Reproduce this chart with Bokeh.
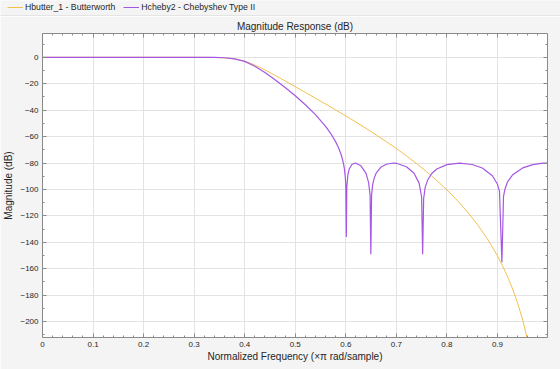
from bokeh.plotting import figure
from bokeh.layouts import column
from bokeh.models import (Range1d, LinearAxis, Legend, LegendItem,
                          FixedTicker, CustomJSTickFormatter)
from bokeh.embed import file_html
from bokeh.resources import INLINE

# ---------------- data ----------------
freq_butter = [0.00, 0.05, 0.10, 0.15, 0.20, 0.25, 0.30, 0.32, 0.34, 0.35, 0.36,
               0.37, 0.38, 0.39, 0.40, 0.41, 0.42, 0.43, 0.44, 0.45, 0.46, 0.47,
               0.48, 0.49, 0.50, 0.52, 0.54, 0.56, 0.58, 0.60, 0.62, 0.64, 0.66,
               0.68, 0.70, 0.72, 0.74, 0.76, 0.78, 0.80, 0.82, 0.84, 0.86, 0.88,
               0.90, 0.91, 0.92, 0.93, 0.94, 0.95, 0.96, 0.97]
mag_butter = [0.0, 0.0, 0.0, 0.0, 0.0, 0.0, -0.01, -0.05, -0.16, -0.28, -0.47,
              -0.79, -1.28, -2.01, -3.01, -4.30, -5.86, -7.62, -9.54, -11.56, -13.63, -15.76,
              -17.91, -20.05, -22.22, -26.58, -30.96, -35.38, -39.85, -44.4, -49.0, -53.8, -58.7,
              -63.8, -69.0, -74.6, -80.4, -86.6, -93.2, -100.3, -108.1, -116.7, -126.3, -137.3,
              -150.2, -157.7, -166.0, -175.3, -186.1, -198.8, -214.4, -234.4]

freq_cheby = [0.00, 0.10, 0.20, 0.30, 0.34, 0.36, 0.38, 0.40, 0.42, 0.44, 0.46,
              0.48, 0.50, 0.52, 0.54, 0.56, 0.57, 0.58, 0.585, 0.59, 0.593, 0.5952,
              0.597, 0.599, 0.600, 0.601, 0.602, 0.604, 0.607, 0.612, 0.619, 0.63,
              0.64, 0.645, 0.648, 0.6495, 0.651, 0.653, 0.656, 0.66, 0.67, 0.68,
              0.694, 0.70, 0.72, 0.735, 0.745, 0.750, 0.752, 0.754, 0.757, 0.762,
              0.77, 0.78, 0.80, 0.825, 0.85, 0.87, 0.89, 0.90, 0.904, 0.9088,
              0.912, 0.915, 0.92, 0.93, 0.95, 0.97, 0.99, 0.999]
mag_cheby = [0.0, 0.0, 0.0, -0.01, -0.10, -0.36, -1.15, -3.12, -6.73, -11.56, -17.02,
             -22.9, -29.1, -35.9, -43.4, -52.3, -57.5, -64.0, -67.9, -72.8, -76.6, -80.0,
             -83.8, -90.8, -97.2, -136.0, -97.9, -89.2, -84.3, -81.1, -80.0, -82.1,
             -87.8, -94.6, -104.0, -149.0, -103.9, -96.7, -91.6, -87.7, -83.0, -80.9,
             -80.0, -80.2, -82.8, -87.7, -95.2, -105.7, -149.0, -106.9, -98.4, -92.8,
             -87.9, -84.5, -81.2, -80.0, -81.1, -83.8, -89.6, -96.1, -101.3, -155.0,
             -105.3, -99.6, -94.2, -88.9, -83.7, -81.2, -80.1, -80.0]

x_ticks = [0.0, 0.1, 0.2, 0.3, 0.4, 0.5, 0.6, 0.7, 0.8, 0.9]
x_tick_labels = ["0", "0.1", "0.2", "0.3", "0.4", "0.5", "0.6", "0.7", "0.8", "0.9"]
y_ticks = [0, -20, -40, -60, -80, -100, -120, -140, -160, -180, -200]
x_minor = [i / 50 for i in range(50)]
y_minor = [10 - 10 * i for i in range(23)]

series_names = ["Hbutter_1 - Butterworth", "Hcheby2 - Chebyshev Type II"]
title_text = "Magnitude Response (dB)"
xlabel_text = "Normalized Frequency (\u00d7\u03c0 rad/sample)"
ylabel_text = "Magnitude (dB)"

# ---------------- styling ----------------
FONT = "Liberation Sans"
BG = "#f4f4f4"
AX = "#8a8a8a"
TXT = "#262626"
C_BUT = "#F1C04F"
C_CHE = "#A458E2"

# ---------------- legend strip (top) ----------------
p_leg = figure(width=560, height=16, output_backend="svg", toolbar_location=None,
               x_range=Range1d(0, 1), y_range=Range1d(1000, 1001),
               x_axis_location=None, y_axis_location=None,
               min_border_left=0, min_border_right=0, min_border_top=0,
               min_border_bottom=1, background_fill_color=BG,
               border_fill_color="#a9a9a9", outline_line_color=None,
               frame_align=False)
p_leg.grid.visible = False
l1 = p_leg.line(freq_butter, mag_butter, line_color=C_BUT, line_width=1)
l2 = p_leg.line(freq_cheby, mag_cheby, line_color=C_CHE, line_width=1)
legend = Legend(items=[LegendItem(label=series_names[0], renderers=[l1]),
                       LegendItem(label=series_names[1], renderers=[l2])],
                orientation="horizontal", location=(7, 3),
                glyph_width=16, glyph_height=10, label_height=10,
                label_standoff=2, spacing=8, padding=0, margin=0,
                label_text_font=FONT, label_text_font_size="8.7px",
                label_text_color=TXT, background_fill_alpha=0,
                border_line_color=None)
p_leg.add_layout(legend)

# ---------------- main plot ----------------
p = figure(width=560, height=353, output_backend="svg", toolbar_location=None,
           x_range=Range1d(0, 0.999), y_range=Range1d(-212, 18),
           min_border_left=41, min_border_right=13, min_border_top=17,
           min_border_bottom=32, background_fill_color="white",
           border_fill_color=BG, outline_line_color=None,
           title=title_text, frame_align=False)

p.title.align = "center"
p.title.text_font = FONT
p.title.text_font_size = "10px"
p.title.text_font_style = "normal"
p.title.text_color = TXT
p.title.standoff = 3

xt = FixedTicker(ticks=x_ticks, minor_ticks=x_minor)
yt = FixedTicker(ticks=y_ticks, minor_ticks=y_minor)
p.xaxis.ticker = xt
p.yaxis.ticker = yt
p.xaxis.major_label_overrides = {v: s for v, s in zip(x_ticks, x_tick_labels)}

p.add_layout(LinearAxis(ticker=xt, formatter=CustomJSTickFormatter(code="return ''"),
                        major_label_standoff=0), "above")
p.add_layout(LinearAxis(ticker=yt, formatter=CustomJSTickFormatter(code="return ''"),
                        major_label_standoff=0), "right")

for ax in list(p.xaxis) + list(p.yaxis):
    ax.axis_line_color = AX
    ax.axis_line_width = 1
    ax.major_tick_line_color = AX
    ax.minor_tick_line_color = AX
    ax.major_tick_in = 4
    ax.major_tick_out = 0
    ax.minor_tick_in = 2
    ax.minor_tick_out = 0
    ax.major_label_text_font = FONT
    ax.major_label_text_font_size = "8px"
    ax.major_label_text_color = TXT

xb = p.below[0]
xb.major_label_standoff = 4
xb.axis_label = xlabel_text
xb.axis_label_standoff = 1
xb.axis_label_text_font = FONT
xb.axis_label_text_font_size = "10px"
xb.axis_label_text_font_style = "normal"
xb.axis_label_text_color = TXT

yl = p.left[0]
yl.major_label_standoff = 4
yl.axis_label = ylabel_text
yl.axis_label_standoff = 3
yl.axis_label_text_font = FONT
yl.axis_label_text_font_size = "10px"
yl.axis_label_text_font_style = "normal"
yl.axis_label_text_color = TXT

p.xgrid.ticker = xt
p.ygrid.ticker = yt
p.xgrid.grid_line_color = "#e3e3e3"
p.ygrid.grid_line_color = "#e3e3e3"

p.line(freq_butter, mag_butter, line_color=C_BUT, line_width=1.0)
p.line(freq_cheby, mag_cheby, line_color=C_CHE, line_width=1.2)

layout = column(p_leg, p, spacing=0)
open("out.html", "w").write(file_html(layout, INLINE))
